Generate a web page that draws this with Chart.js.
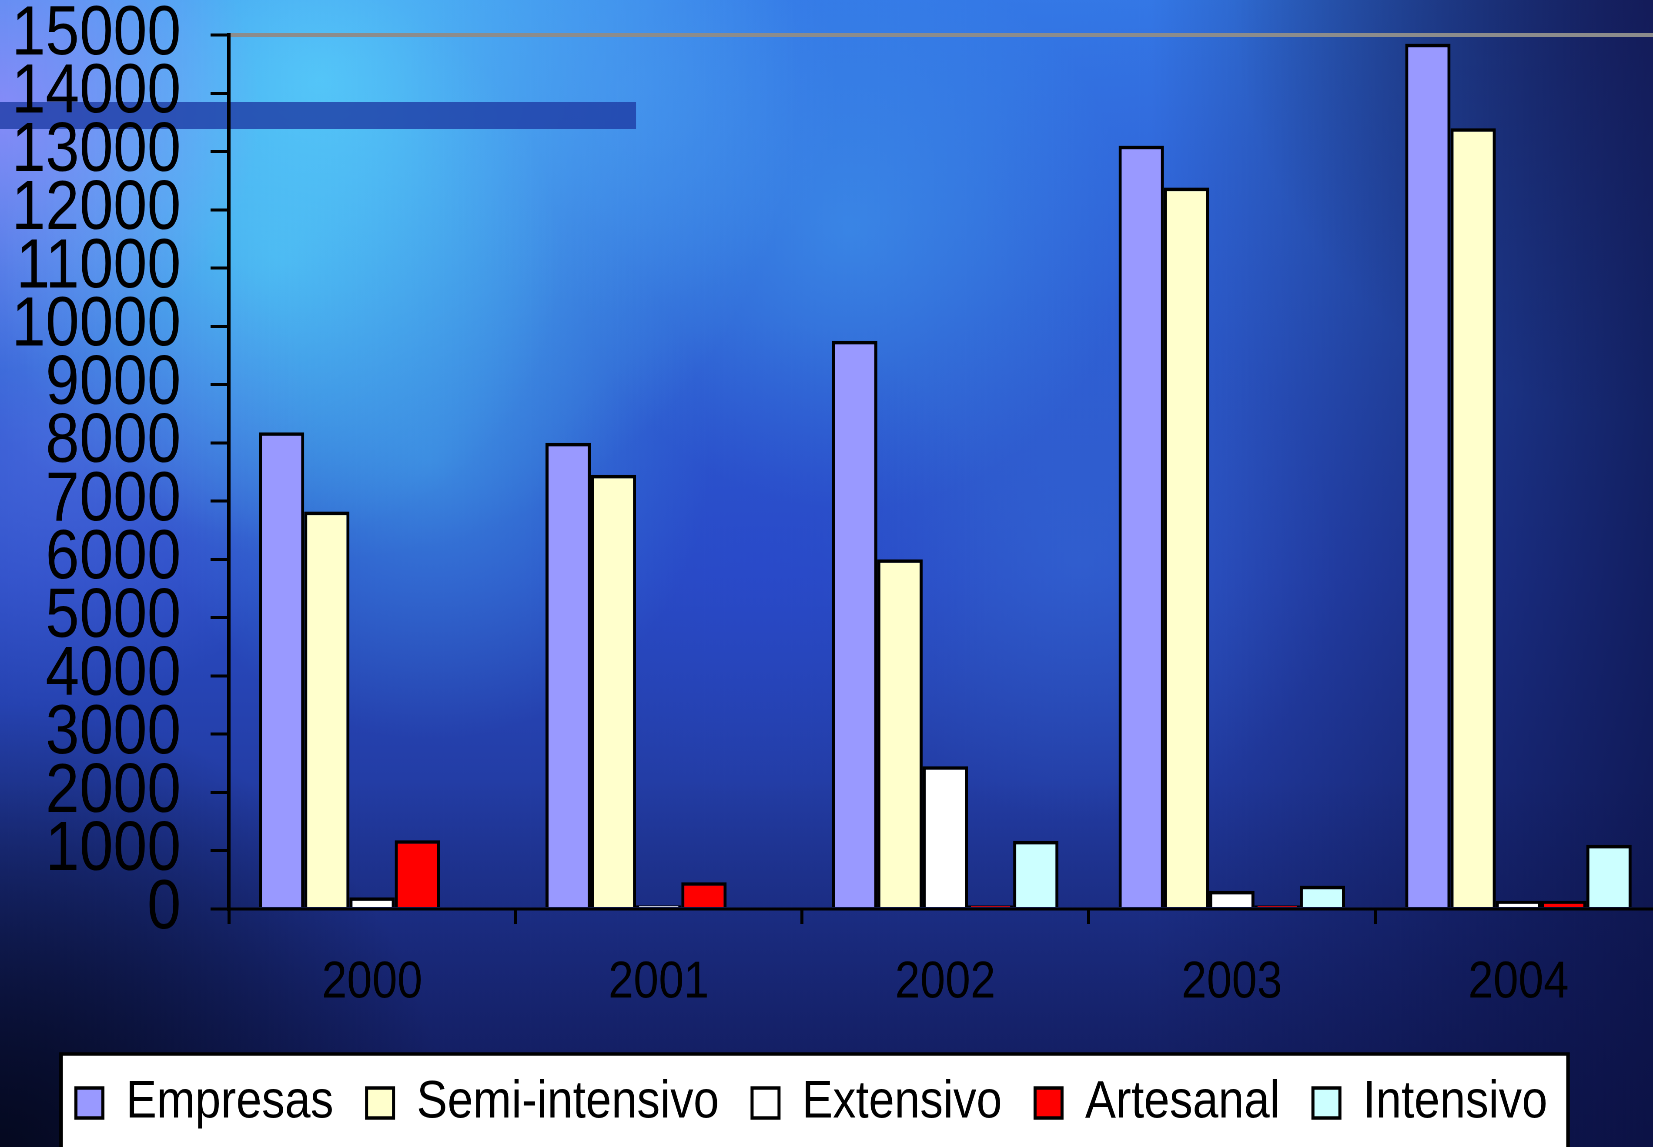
<!DOCTYPE html>
<html>
<head>
<meta charset="utf-8">
<script src="https://cdn.jsdelivr.net/npm/chart.js@4.4.1/dist/chart.umd.min.js"></script>
<style>
  html, body { margin: 0; padding: 0; overflow: hidden; background: #0a1030; }
  /* the original slide is squeezed horizontally; draw wide, then squeeze */
  #wrap { width: 1910px; height: 1154px; position: relative; transform: scaleX(0.87); transform-origin: 0 0; }
</style>
</head>
<body>
<div id="wrap"><canvas id="myChart"></canvas></div>
<script>
const years = ['2000', '2001', '2002', '2003', '2004'];
const empresas = [8180, 8000, 9750, 13100, 14850];
const semiIntensivo = [6820, 7450, 6000, 12380, 13400];
const extensivo = [200, 60, 2450, 310, 140];
const artesanal = [1180, 460, 60, 60, 140];
const intensivo = [null, null, 1170, 400, 1100];
const yMin = 0, yMax = 15000, yStep = 1000;

const FONT = "'Liberation Sans', Arial, sans-serif";
const K = 0.87;

// slide background: blue clouds, dark band, white legend box (drawn in screen coords)
const backdrop = {
    id: 'backdrop',
    beforeDraw(chart) {
        const c = chart.ctx, w = chart.width * K, h = chart.height;
        c.save();
        c.scale(1 / K, 1);
        let g = c.createLinearGradient(0, 0, 0, h);
        g.addColorStop(0, '#3478e6');
        g.addColorStop(0.5, '#2a4cc4');
        g.addColorStop(1, '#17226e');
        c.fillStyle = g;
        c.fillRect(0, 0, w, h);

        const blob = (x, y, r, rgb, a) => {
            const rg = c.createRadialGradient(x, y, 0, x, y, r);
            rg.addColorStop(0, 'rgba(' + rgb + ',' + a + ')');
            rg.addColorStop(1, 'rgba(' + rgb + ',0)');
            c.fillStyle = rg;
            c.fillRect(0, 0, w, h);
        };
        blob(320, 80, 480, '95,220,255', 0.75);
        blob(280, 260, 280, '85,215,252', 0.55);
        blob(430, 460, 280, '70,175,240', 0.5);
        blob(0, 110, 260, '165,140,255', 0.7);
        blob(60, 450, 260, '110,130,245', 0.35);
        blob(850, 230, 280, '70,170,245', 0.45);
        blob(620, 90, 220, '80,160,245', 0.35);
        blob(1080, 560, 260, '60,125,225', 0.35);
        blob(760, 560, 240, '40,70,210', 0.35);
        blob(1200, 200, 220, '50,100,220', 0.3);

        g = c.createLinearGradient(1150, 0, 1662, 0);
        g.addColorStop(0, 'rgba(12,18,70,0)');
        g.addColorStop(1, 'rgba(12,18,70,0.8)');
        c.fillStyle = g;
        c.fillRect(0, 0, w, h);

        g = c.createLinearGradient(0, 780, 0, h);
        g.addColorStop(0, 'rgba(10,15,60,0)');
        g.addColorStop(1, 'rgba(10,15,60,0.5)');
        c.fillStyle = g;
        c.fillRect(0, 0, w, h);

        blob(0, h, 450, '4,8,28', 0.95);
        blob(1653, 0, 420, '20,20,80', 0.6);

        // dark band top left
        c.fillStyle = 'rgba(30,60,165,0.8)';
        c.fillRect(0, 102, 636, 27);

        // legend frame
        c.fillStyle = '#fff';
        c.fillRect(61, 1054, 1507, 130);
        c.strokeStyle = '#000';
        c.lineWidth = 3.5;
        c.strokeRect(61, 1054, 1507, 130);
        c.restore();
    }
};

const legendShift = {
    id: 'legendShift',
    afterLayout(chart) {
        chart.legend.left -= 22;
        chart.legend.right -= 22;
    }
};

const ctx = document.getElementById('myChart').getContext('2d');

const myChart = new Chart(ctx, {
    type: 'bar',
    data: {
        labels: years,
        datasets: [
            { label: 'Empresas', data: empresas, backgroundColor: '#9999ff' },
            { label: 'Semi-intensivo', data: semiIntensivo, backgroundColor: '#ffffcc' },
            { label: 'Extensivo', data: extensivo, backgroundColor: '#ffffff' },
            { label: 'Artesanal', data: artesanal, backgroundColor: '#ff0000' },
            { label: 'Intensivo', data: intensivo, backgroundColor: '#ccffff' }
        ]
    },
    options: {
        responsive: true,
        maintainAspectRatio: false,
        animation: false,
        devicePixelRatio: 2,
        layout: { padding: { top: 35, left: 0, right: 0, bottom: 14.5 } },
        datasets: {
            bar: {
                categoryPercentage: 0.79,
                barPercentage: 1.0,
                borderColor: '#000',
                borderWidth: 3.5
            }
        },
        scales: {
            x: {
                grid: { offset: true, drawOnChartArea: false, color: '#000', lineWidth: 3.5, tickLength: 15 },
                border: { color: '#000', width: 3 },
                ticks: { color: '#000', font: { family: FONT, size: 52, lineHeight: 1 }, padding: 33, maxRotation: 0 },
                afterFit: (s) => { s.height = 129.5; }
            },
            y: {
                min: yMin,
                max: yMax,
                grid: {
                    color: (c) => (c.tick && c.tick.value === yMax ? '#8c8c8c' : 'rgba(0,0,0,0)'),
                    lineWidth: 4,
                    tickColor: '#000',
                    tickWidth: 3,
                    tickLength: 21
                },
                border: { color: '#000', width: 4 },
                ticks: {
                    stepSize: yStep,
                    autoSkip: false,
                    color: '#000',
                    font: { family: FONT, size: 70, lineHeight: 1 },
                    padding: 34,
                    callback: (v) => String(v)
                },
                afterFit: (s) => {
                    s.width = 263;
                    s.paddingTop = 0;
                    s.paddingBottom = 0;
                }
            }
        },
        plugins: {
            legend: {
                position: 'bottom',
                labels: {
                    color: '#000',
                    font: { family: FONT, size: 53 },
                    boxWidth: 31,
                    boxHeight: 30,
                    padding: 38
                }
            },
            tooltip: { enabled: false }
        }
    },
    plugins: [backdrop, legendShift]
});
</script>
</body>
</html>
